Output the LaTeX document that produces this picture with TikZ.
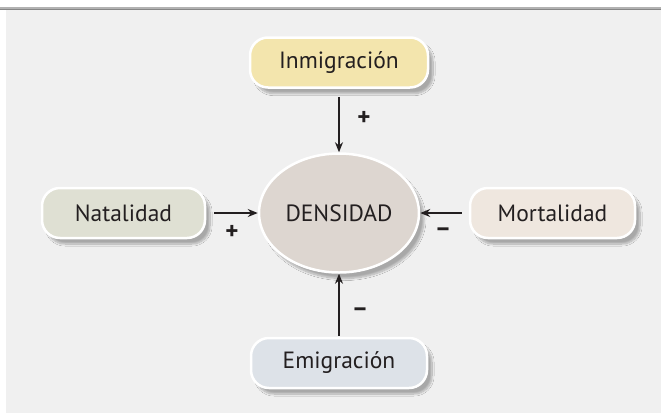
\documentclass[tikz,border=0pt]{standalone}
\usepackage{fontspec}
\setmainfont{PT Sans}
\usetikzlibrary{arrows.meta,shapes.geometric,shadows.blur}
\definecolor{bg}{HTML}{F0F0F0}
\definecolor{txt}{HTML}{231F20}
\definecolor{cInm}{HTML}{F3E5AD}
\definecolor{cNat}{HTML}{DFE0D3}
\definecolor{cMor}{HTML}{EFE7DF}
\definecolor{cEmi}{HTML}{DDE2E8}
\definecolor{cDen}{HTML}{DDD6D0}
\tikzset{
  factor/.style={draw=white, line width=2.5pt, rounded corners=18pt,
    minimum height=50pt, inner sep=0pt, text=txt,
    font=\fontsize{23.5}{26}\selectfont,
    blur shadow={shadow xshift=5pt, shadow yshift=-6pt, shadow opacity=30, shadow blur steps=12}},
  central/.style={ellipse, draw=white, line width=2.5pt, fill=cDen,
    minimum width=160pt, minimum height=119pt, inner sep=0pt, text=txt,
    font=\fontsize{23.5}{26}\selectfont,
    blur shadow={shadow xshift=5pt, shadow yshift=-6pt, shadow opacity=30, shadow blur steps=12}},
  arr/.style={-{Stealth[length=10pt,width=8pt]}, line width=1.3pt, draw=txt},
  sign/.style={text=txt, font=\fontsize{25}{28}\selectfont\bfseries, inner sep=0pt}
}
\begin{document}
\begin{tikzpicture}[x=1pt,y=-1pt]
\useasboundingbox (0,0) rectangle (661,413);
\fill[white] (0,0) rectangle (661,413);
\fill[bg] (6,10) rectangle (661,413);
\fill[black!30] (0,7) rectangle (661,8.6);
\fill[black!47] (0,8.6) rectangle (661,10.2);

\node[central] (den) at (339,213) {DENSIDAD};
\node[factor, fill=cInm, minimum width=178pt] (inm) at (339,62.5) {Inmigración};
\node[factor, fill=cNat, minimum width=163pt] (nat) at (123.5,213) {Natalidad};
\node[factor, fill=cMor, minimum width=165pt] (mor) at (552.5,213) {Mortalidad};
\node[factor, fill=cEmi, minimum width=176pt] (emi) at (339,363) {Emigración};

\draw[arr, shorten <=8pt] (inm) -- (den);
\draw[arr, shorten <=8pt] (nat) -- (den);
\draw[arr, shorten <=7pt] (mor) -- (den);
\draw[arr, shorten <=1pt] (emi) -- (den);

\node[sign] (pinm) at (364,118) {+};
\node[sign] (pnat) at (232,232) {+};
\node[sign] (mmor) at (443,232) {–};
\node[sign] (memi) at (360,312) {–};
\end{tikzpicture}
\end{document}
